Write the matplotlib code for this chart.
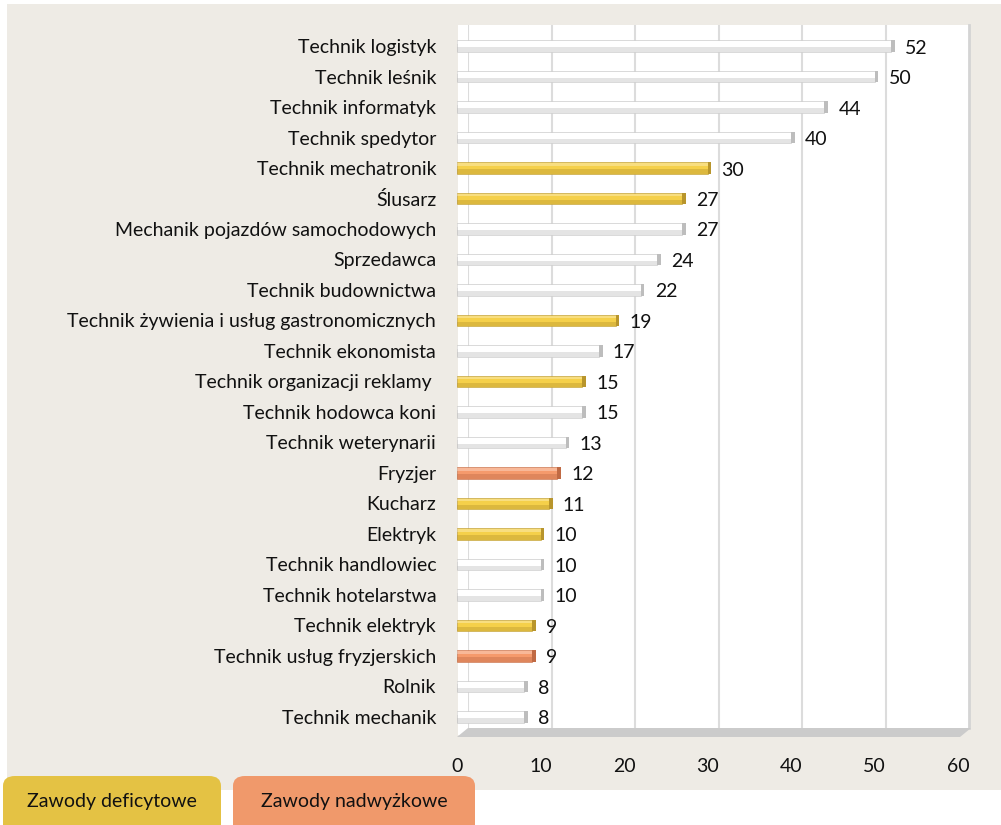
import matplotlib.pyplot as plt
from matplotlib.patches import Rectangle, Polygon, FancyBboxPatch

plt.rcParams["font.family"] = ["Lato", "DejaVu Sans"]

# data, top to bottom
categories = [
    "Technik logistyk", "Technik leśnik", "Technik informatyk", "Technik spedytor",
    "Technik mechatronik", "Ślusarz", "Mechanik pojazdów samochodowych", "Sprzedawca",
    "Technik budownictwa", "Technik żywienia i usług gastronomicznych",
    "Technik ekonomista", "Technik organizacji reklamy ", "Technik hodowca koni",
    "Technik weterynarii", "Fryzjer", "Kucharz", "Elektryk", "Technik handlowiec",
    "Technik hotelarstwa", "Technik elektryk", "Technik usług fryzjerskich",
    "Rolnik", "Technik mechanik",
]
values = [52, 50, 44, 40, 30, 27, 27, 24, 22, 19, 17, 15, 15, 13, 12, 11, 10, 10, 10, 9, 9, 8, 8]
# n = no category, d = deficytowe, s = nadwyżkowe
status = ["n", "n", "n", "n", "d", "d", "n", "n", "n", "d", "n", "d", "n", "n",
          "s", "d", "d", "n", "n", "d", "s", "n", "n"]
x_ticks = [0, 10, 20, 30, 40, 50, 60]
legend_labels = ["Zawody deficytowe", "Zawody nadwyżkowe"]

W, H = 1001, 825
face = {"n": "#ffffff", "d": "#f5d04a", "s": "#f59a6c"}
shade = {"n": "#bdbdbd", "d": "#b8952c", "s": "#c06a44"}
FS = 14


def fx(px):
    return px / W


def fy(py):
    return 1 - py / H


fig = plt.figure(figsize=(W / 100, H / 100), dpi=100, facecolor="white")

# beige background
fig.patches.append(Rectangle((fx(7), fy(790)), fx(994), 786 / H,
                             transform=fig.transFigure, facecolor="#eeebe5",
                             edgecolor="none", zorder=0))
# left face of wall
fig.patches.append(Rectangle((fx(458), fy(735)), fx(12), 710 / H,
                             transform=fig.transFigure, facecolor="white",
                             edgecolor="none", zorder=0.5))

# back wall with gridlines (shifted for 3D depth)
back = fig.add_axes([fx(468), fy(728), fx(501), (728 - 25) / H], zorder=1)
back.set_xlim(0, 60)
back.set_facecolor("white")
for v in x_ticks[:-1]:
    back.axvline(v, color="#dcdcdc", lw=1.5)
back.set_xticks([])
back.set_yticks([])
for s in ["top", "left", "bottom"]:
    back.spines[s].set_visible(False)
back.spines["right"].set_color("#d4d4d4")
back.spines["right"].set_linewidth(2)

# floor
fig.patches.append(Polygon([(fx(457), fy(737)), (fx(468), fy(728)),
                            (fx(971), fy(728)), (fx(960), fy(737))],
                           closed=True, transform=fig.transFigure,
                           facecolor="#cbcbcb", edgecolor="none", zorder=1.5))

ax = fig.add_axes([fx(457), fy(737), fx(501), (737 - 25) / H], zorder=2)
ax.patch.set_visible(False)
ax.set_xlim(0, 60)
ax.set_ylim(22.66, -0.69)

ys = list(range(len(categories)))
h = 0.38
for y, v, st in zip(ys, values, status):
    ax.barh(y, v, height=h, color=face[st], edgecolor=shade[st], linewidth=0.4)
    ax.barh(y + h * 0.3, v, height=h * 0.4, color=shade[st], alpha=0.4, linewidth=0)
    ax.barh(y - h * 0.3, v, height=h * 0.2, color="white", alpha=0.3, linewidth=0)
    ax.barh(y, 0.45, left=v, height=h, color=shade[st], linewidth=0)
    ax.annotate(str(v), xy=(v, y), xytext=(14, -2), textcoords="offset pixels",
                ha="left", va="center", fontsize=FS, color="#111111")

ax.set_yticks(ys)
ax.set_yticklabels(categories, fontsize=FS, color="#111111")
ax.set_xticks(x_ticks)
ax.set_xticklabels([str(t) for t in x_ticks], fontsize=FS, color="#111111")
ax.tick_params(axis="y", length=0, pad=15)
ax.tick_params(axis="x", length=0, pad=15)
for s in ax.spines.values():
    s.set_visible(False)

# legend boxes
legend_colors = ["#e4c244", "#f0996b"]
boxes = [(3, 221), (233, 475)]
for (x0, x1), c, lab in zip(boxes, legend_colors, legend_labels):
    fig.patches.append(FancyBboxPatch((fx(x0), fy(840)), fx(x1 - x0), (840 - 776) / H,
                                      boxstyle="round,pad=0,rounding_size=0.012",
                                      transform=fig.transFigure, facecolor=c,
                                      edgecolor="none", zorder=3))
    fig.text(fx((x0 + x1) / 2), fy(802), lab, ha="center", va="center",
             fontsize=FS, color="#111111", zorder=4)

fig.savefig("out.png", dpi=100)
